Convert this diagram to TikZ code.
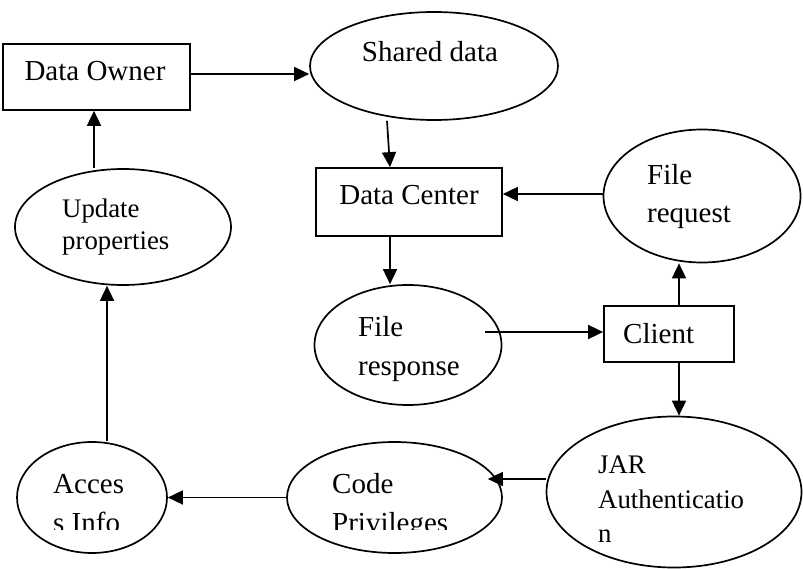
\documentclass[tikz,border=0pt]{standalone}
\usepackage{fontspec}
\setmainfont{Liberation Serif}
\usetikzlibrary{shapes.geometric,arrows.meta}
\tikzset{
  box/.style={draw,line width=1.7pt,rectangle,inner sep=0pt},
  oval/.style={draw,line width=1.7pt,ellipse,inner sep=0pt},
  arr/.style={line width=1.7pt,-{Triangle[length=15pt,width=14pt]}},
  lbl/.style={inner sep=0pt,anchor=base west,font=\fontsize{29}{34}\selectfont},
  lbls/.style={inner sep=0pt,anchor=base west,font=\fontsize{26.8}{32}\selectfont},
  clbl/.style={inner sep=0pt,anchor=base,font=\fontsize{29}{34}\selectfont}
}
\begin{document}
\begin{tikzpicture}[x=1pt,y=-1pt]
\useasboundingbox (0,0) rectangle (803,569);
% shapes
\node[box,minimum width=187pt,minimum height=66pt] (do) at (96.5,77) {};
\node[box,minimum width=186pt,minimum height=68pt] (dc) at (409,202) {};
\node[box,minimum width=130pt,minimum height=56pt] (client) at (669,334) {};
\node[oval,minimum width=248pt,minimum height=108pt] (sd) at (434,66) {};
\node[oval,minimum width=197pt,minimum height=133pt] (freq) at (702,196) {};
\node[oval,minimum width=187pt,minimum height=120pt] (rsp) at (408,345) {};
\node[oval,minimum width=255pt,minimum height=151pt] (jar) at (674,492) {};
\node[oval,minimum width=215pt,minimum height=111pt] (cp) at (394.5,497.5) {};
\node[oval,minimum width=150pt,minimum height=111pt] (ai) at (92,497.5) {};
\node[oval,minimum width=216pt,minimum height=116pt] (up) at (123,227) {};
% texts
\node[clbl] (tdo) at (95,81) {Data Owner};
\node[clbl] (tsd) at (430,62) {Shared data};
\node[clbl] (tdc) at (409,205) {Data Center};
\node[lbl] (tfr1) at (647,185) {File};
\node[lbl] (tfr2) at (647,223) {request};
\node[lbl] (trs1) at (358,336) {File};
\node[lbl] (trs2) at (358,375) {response};
\node[lbl] (tcl) at (623,343) {Client};
\node[lbls] (tj1) at (598,473) {JAR};
\node[lbls] (tj2) at (598,508) {Authenticatio};
\node[lbls] (tj3) at (598,542) {n};
\node[lbls] (tu1) at (62,218) {Update};
\node[lbls] (tu2) at (62,250) {properties};
\begin{scope}
\clip (0,0) rectangle (803,529.5);
\node[lbl] (tc1) at (332,493) {Code};
\node[lbl] (tc2) at (332,532) {Privileges};
\node[lbl] (ta1) at (53,493) {Acces};
\node[lbl] (ta2) at (53,532) {s Info};
\end{scope}
% connectors
\coordinate (rspin) at (485,332);
\draw[arr] ([yshift=3pt]do.east) -- ([yshift=3pt]do.east -| sd.west);
\draw[arr] ([xshift=-47pt]sd.south) -- ([xshift=-19pt]dc.north);
\draw[arr] ([yshift=2pt]freq.west) -- ([yshift=2pt]freq.west -| dc.east);
\draw[arr] ([xshift=-19pt]dc.south) -- ([xshift=-18pt]rsp.north);
\draw[arr] (rspin) -- (rspin -| client.west);
\draw[arr] ([xshift=10pt]client.north) -- ([xshift=-23pt]freq.south);
\draw[arr] ([xshift=10pt]client.south) -- ([xshift=5pt]jar.north);
\draw[arr] ([yshift=13pt]jar.west) -- ([xshift=-15pt,yshift=18.5pt]cp.east);
\draw[arr] (cp.west) -- (ai.east);
\draw[arr] ([xshift=15pt]ai.north) -- ([xshift=-16pt]up.south);
\draw[arr] ([xshift=-29pt]up.north) -- ([xshift=-2.5pt]do.south);
\end{tikzpicture}
\end{document}
